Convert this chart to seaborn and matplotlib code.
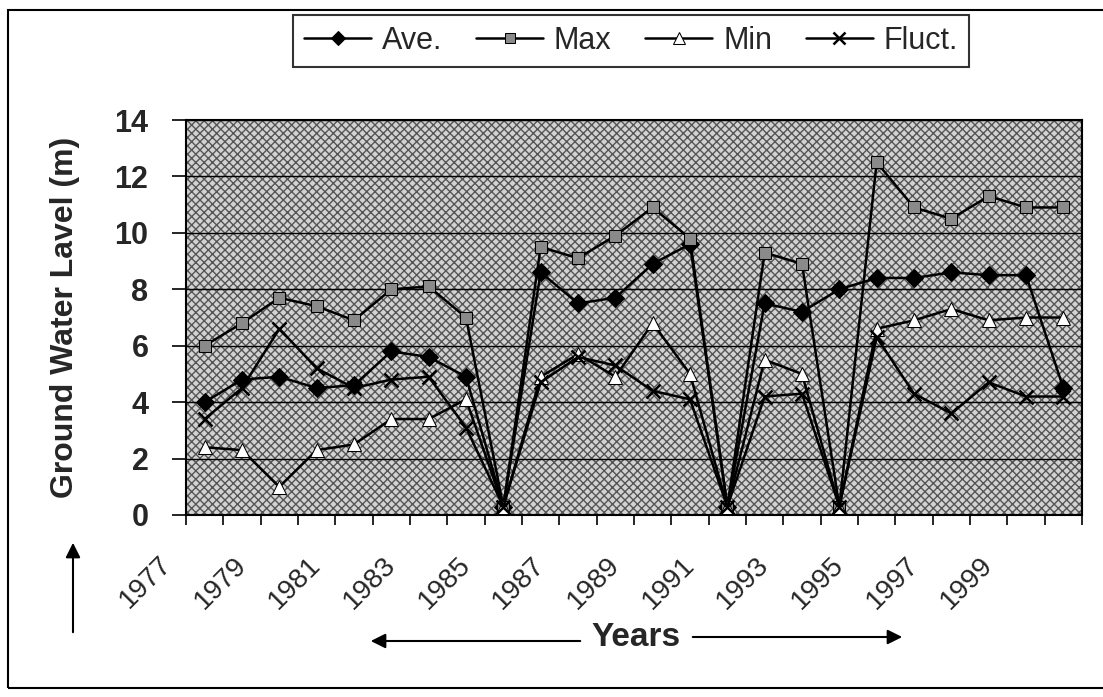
import matplotlib.pyplot as plt
import seaborn as sns
from matplotlib.patches import Rectangle
from matplotlib.transforms import ScaledTranslation

# values (m)
years = list(range(1977, 2001))
ave = [4.0, 4.8, 4.9, 4.5, 4.6, 5.8, 5.6, 4.9, 0.3, 8.6, 7.5, 7.7,
       8.9, 9.6, 0.3, 7.5, 7.2, 8.0, 8.4, 8.4, 8.6, 8.5, 8.5, 4.5]
max_lvl = [6.0, 6.8, 7.7, 7.4, 6.9, 8.0, 8.1, 7.0, 0.3, 9.5, 9.1, 9.9,
           10.9, 9.8, 0.3, 9.3, 8.9, 0.3, 12.5, 10.9, 10.5, 11.3, 10.9, 10.9]
min_lvl = [2.4, 2.3, 1.0, 2.3, 2.5, 3.4, 3.4, 4.1, 0.3, 4.9, 5.7, 4.9,
           6.8, 5.0, 0.3, 5.5, 5.0, 0.3, 6.6, 6.9, 7.3, 6.9, 7.0, 7.0]
fluct = [3.4, 4.5, 6.6, 5.2, 4.5, 4.8, 4.9, 3.1, 0.3, 4.7, 5.6, 5.3,
         4.4, 4.1, 0.3, 4.2, 4.3, 0.3, 6.3, 4.3, 3.6, 4.7, 4.2, 4.2]
yticks = [0, 2, 4, 6, 8, 10, 12, 14]

sns.set_style('white')
plt.rcParams['font.family'] = ['Liberation Sans', 'DejaVu Sans']
plt.rcParams['hatch.linewidth'] = 1.0

W, H = 1103, 697
fig = plt.figure(figsize=(W / 100, H / 100), dpi=100)
ax = fig.add_axes([186 / W, 1 - 515 / H, 896 / W, 395 / H])

# grey cross-hatched plot area, as in the Excel original
ax.add_patch(Rectangle((0, 0), 1, 1, transform=ax.transAxes, facecolor='#d2d2d2',
                       edgecolor='#555555', hatch='xxxx', lw=0, zorder=0))

pos = list(range(len(years)))
styles = [
    ('Ave.', ave, dict(marker='D', markersize=9, markerfacecolor='black', markeredgecolor='black')),
    ('Max', max_lvl, dict(marker='s', markersize=9, markerfacecolor='#8a8a8a', markeredgecolor='black')),
    ('Min', min_lvl, dict(marker='^', markersize=10, markerfacecolor='white', markeredgecolor='black')),
    ('Fluct.', fluct, dict(marker='x', markersize=10, markeredgecolor='black', markeredgewidth=1.8)),
]
for name, vals, kw in styles:
    sns.lineplot(x=pos, y=vals, ax=ax, color='black', lw=1.8, label=name, zorder=3, **kw)

ax.set_xlim(-0.5, len(years) - 0.5)
ax.set_ylim(0, 14)
ax.set_yticks(yticks)
ax.set_yticklabels([str(v) for v in yticks], fontsize=22, fontweight='bold')
ax.set_axisbelow(True)
ax.grid(axis='y', color='black', lw=1.0)
ax.grid(axis='x', visible=False)

# tick marks between categories, year labels every other category
ax.set_xticks([p - 0.5 for p in range(len(years) + 1)], minor=True)
ax.set_xticks(pos[::2])
ax.set_xticklabels([str(y) for y in years[::2]], fontsize=20)
ax.tick_params(axis='x', which='major', bottom=True, length=0, pad=33)
ax.tick_params(axis='x', which='minor', bottom=True, length=7, width=1.2,
               direction='out', color='black')
ax.tick_params(axis='y', left=True, length=10, width=1.2, direction='out', color='black', pad=17)
# labels sit left of their category, as Excel drew them
shift = ScaledTranslation(-0.37, 0, fig.dpi_scale_trans)
for t in ax.get_xticklabels():
    t.set_rotation(45)
    t.set_ha('right')
    t.set_va('center')
    t.set_rotation_mode('anchor')
    t.set_transform(t.get_transform() + shift)
for s in ax.spines.values():
    s.set_color('black')
    s.set_linewidth(1.5)

ax.set_xlabel('')
ax.set_ylabel('Ground Water Lavel (m)', fontsize=23, fontweight='bold')
ax.yaxis.set_label_coords(-0.118, 0.5)

handles, labels = ax.get_legend_handles_labels()
if ax.legend_ is not None:
    ax.legend_.remove()
leg = fig.legend(handles, labels, loc='center', bbox_to_anchor=(631 / W, 1 - 41 / H), ncol=4,
                 frameon=True, fancybox=False, edgecolor='black', fontsize=22,
                 handlelength=2.2, columnspacing=1.1, handletextpad=0.35, borderpad=0.35,
                 markerscale=0.8)
leg.get_frame().set_linewidth(1.5)

# outer frame of the scanned figure
fig.add_artist(Rectangle((8 / W, 1 - 688 / H), 1.0, 678 / H, transform=fig.transFigure,
                         fill=False, lw=1.5, edgecolor='black'))

arrow = dict(arrowstyle='-|>', color='black', lw=1.5, mutation_scale=22)
ax.annotate('', xy=(73 / W, 1 - 540 / H), xytext=(73 / W, 1 - 635 / H),
            xycoords='figure fraction', arrowprops=arrow, annotation_clip=False)
ax.annotate('', xy=(368 / W, 1 - 641 / H), xytext=(583 / W, 1 - 641 / H),
            xycoords='figure fraction', arrowprops=arrow, annotation_clip=False)
ax.annotate('', xy=(905 / W, 1 - 637 / H), xytext=(690 / W, 1 - 637 / H),
            xycoords='figure fraction', arrowprops=arrow, annotation_clip=False)
fig.text(636 / W, 1 - 637 / H, 'Years', ha='center', va='center', fontsize=24, fontweight='bold')

fig.savefig('out.png', dpi=100)
